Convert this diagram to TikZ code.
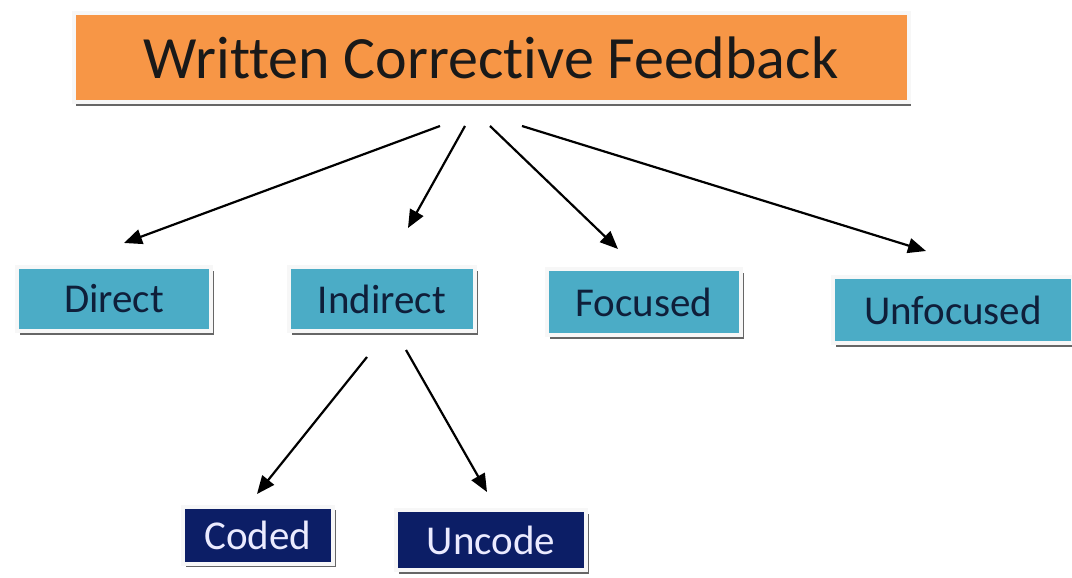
\documentclass[tikz,border=0pt]{standalone}
\usepackage{fontspec}
\setmainfont[Ligatures=NoCommon]{Carlito}
\usetikzlibrary{arrows.meta,shadows}
\definecolor{cforange}{HTML}{F79646}
\definecolor{cfteal}{HTML}{4BACC6}
\definecolor{cfnavy}{HTML}{0C1E66}
\definecolor{cftext}{HTML}{0F1F3A}
\tikzset{
  boxbase/.style={rectangle, draw=white!94!gray, line width=4pt, inner sep=0pt,
    drop shadow={shadow xshift=2.5pt, shadow yshift=-3.5pt, fill=black!60, opacity=1}},
  titlebox/.style={boxbase, fill=cforange, text=black!90, font=\fontsize{60}{64}\selectfont},
  tealbox/.style={boxbase, fill=cfteal, text=cftext, font=\fontsize{41}{45}\selectfont},
  navybox/.style={boxbase, fill=cfnavy, text=white!92!blue, font=\fontsize{41}{45}\selectfont},
  arr/.style={draw=black, line width=2.2pt, -{Triangle[length=18pt,width=15pt]}}
}
\begin{document}
\begin{tikzpicture}[x=1pt,y=-1pt]
\useasboundingbox[fill=white] (0,0) rectangle (1072,578);
\node[titlebox, minimum width=835pt, minimum height=89pt] (title) at (491,58) {Written Corrective Feedback};
\node[tealbox, minimum width=194pt, minimum height=64pt] (direct) at (114,299) {Direct};
\node[tealbox, minimum width=186pt, minimum height=64pt] (indirect) at (382,299) {Indirect};
\node[tealbox, minimum width=194pt, minimum height=66pt] (focused) at (644,302) {Focused};
\node[tealbox, minimum width=240pt, minimum height=66pt] (unfocused) at (953,310) {Unfocused};
\node[navybox, minimum width=150pt, minimum height=57pt] (coded) at (258,535) {Coded};
\node[navybox, minimum width=190pt, minimum height=60pt] (uncode) at (491,540) {Uncode};

\coordinate (t1) at (440,126);
\coordinate (t2) at (465,126);
\coordinate (t3) at (490,126);
\coordinate (t4) at (522,126);
\coordinate (d1) at (124,243);
\coordinate (d2) at (408,228);
\coordinate (d3) at (618,249);
\coordinate (d4) at (926,251);
\coordinate (i1) at (367,357);
\coordinate (i2) at (406,350);
\coordinate (c1) at (257,494);
\coordinate (u1) at (487,492);

\draw[arr] (t1) -- (d1);
\draw[arr] (t2) -- (d2);
\draw[arr] (t3) -- (d3);
\draw[arr] (t4) -- (d4);
\draw[arr] (i1) -- (c1);
\draw[arr] (i2) -- (u1);
\end{tikzpicture}
\end{document}
